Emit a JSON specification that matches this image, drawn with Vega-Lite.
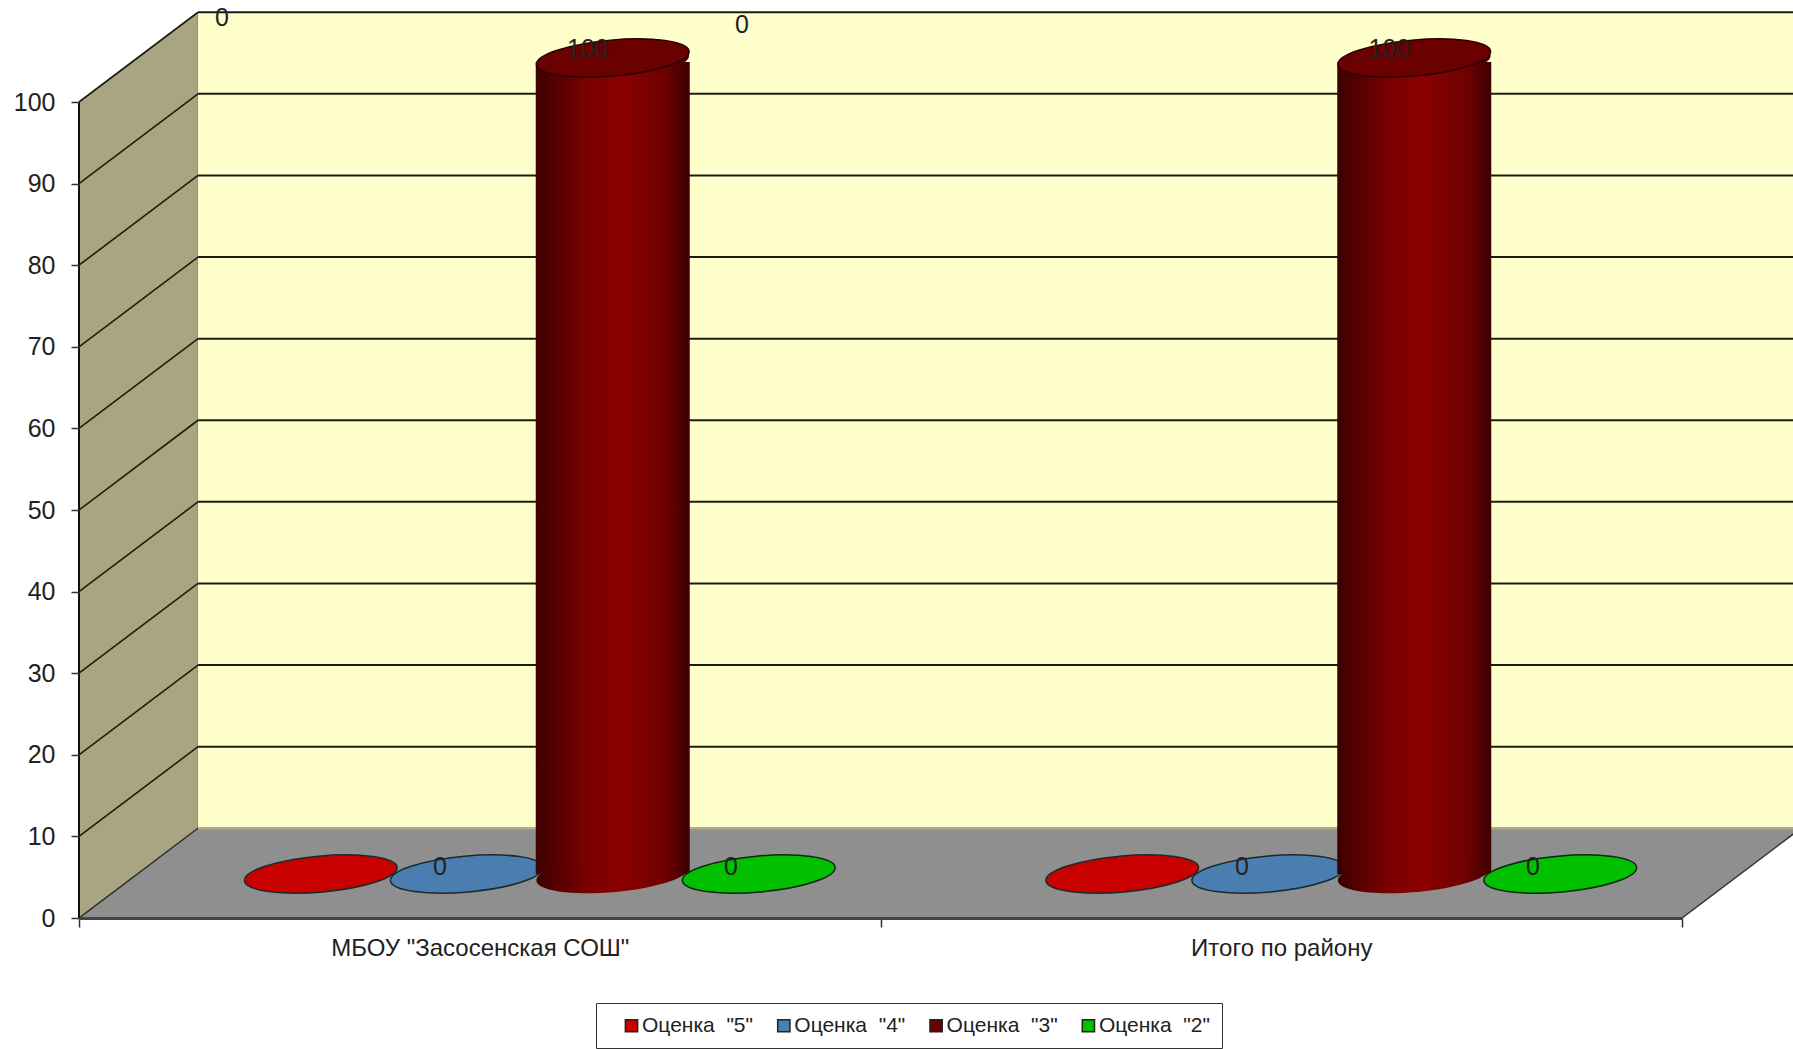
{
"$schema":"https://vega.github.io/schema/vega-lite/v6.json",
"width":1793,"height":1049,"padding":0,"autosize":{"type":"none"},"background":"#ffffff",
"config":{"font":"Liberation Sans","view":{"stroke":null}},
"datasets":{
"scores":[
{"school":"МБОУ \"Засосенская СОШ\"","series":"Оценка\u00a0\u00a0\"5\"","value":0},
{"school":"МБОУ \"Засосенская СОШ\"","series":"Оценка\u00a0\u00a0\"4\"","value":0},
{"school":"МБОУ \"Засосенская СОШ\"","series":"Оценка\u00a0\u00a0\"3\"","value":100},
{"school":"МБОУ \"Засосенская СОШ\"","series":"Оценка\u00a0\u00a0\"2\"","value":0},
{"school":"Итого по району","series":"Оценка\u00a0\u00a0\"5\"","value":0},
{"school":"Итого по району","series":"Оценка\u00a0\u00a0\"4\"","value":0},
{"school":"Итого по району","series":"Оценка\u00a0\u00a0\"3\"","value":100},
{"school":"Итого по району","series":"Оценка\u00a0\u00a0\"2\"","value":0}],
"grid":[{"level":10,"wall":21},{"level":20,"wall":31},{"level":30,"wall":41},{"level":40,"wall":51},{"level":50,"wall":61},{"level":60,"wall":71},{"level":70,"wall":81},{"level":80,"wall":91},{"level":90,"wall":101},{"level":100,"wall":111}],
"sideWall":[{"u":0,"lo":0,"hi":100},{"u":0.1485,"lo":11,"hi":111}],
"floor":[{"u":0,"lo":0,"hi":0},{"u":0.1485,"lo":0,"hi":11},{"u":2,"lo":0,"hi":11},{"u":2.1485,"lo":11,"hi":11}],
"labels":[
{"u":0.1784,"v":110.3,"t":"0"},{"u":0.827,"v":109.4,"t":"0"},{"u":0.635,"v":106.5,"t":"100"},{"u":1.635,"v":106.5,"t":"100"},
{"u":0.4504,"v":6.25,"t":"0"},{"u":0.8135,"v":6.25,"t":"0"},{"u":1.451,"v":6.25,"t":"0"},{"u":1.814,"v":6.25,"t":"0"}]
},
"resolve":{"scale":{"x":"independent"},"axis":{"y":"independent"}},
"layer":[
{"resolve":{"axis":{"y":"independent"}},"layer":[
 {"data":{"name":"sideWall"},"mark":{"type":"area","color":"#a9a581","stroke":"#777","strokeWidth":1},
  "encoding":{"x":{"field":"u","type":"quantitative","scale":{"domain":[-0.09856,2.1385],"nice":false,"zero":false},"axis":null},
   "y":{"field":"lo","type":"quantitative","scale":{"domain":[-16.05,112.5],"nice":false,"zero":false},"axis":{"orient":"left","values":[0,10,20,30,40,50,60,70,80,90,100],"offset":-79,"domain":false,"grid":false,"title":null,"tickSize":8,"tickColor":"#333","tickWidth":1.5,"labelFontSize":25,"labelColor":"#222","labelPadding":16,"zindex":1}},
   "y2":{"field":"hi"}}},
 {"data":{"values":[{"a":0.1485,"b":2.1385,"lo":11,"hi":111}]},"mark":{"type":"rect","color":"#ffffcc"},
  "encoding":{"x":{"field":"a","type":"quantitative"},"x2":{"field":"b"},"y":{"field":"lo","type":"quantitative","axis":null},"y2":{"field":"hi"}}},
 {"data":{"name":"floor"},"mark":{"type":"area","color":"#8f8f8f","stroke":"#333","strokeWidth":1.5},
  "encoding":{"x":{"field":"u","type":"quantitative"},"y":{"field":"lo","type":"quantitative","axis":null},"y2":{"field":"hi"}}},
 {"data":{"values":[{"a":0.1485,"b":2.1385,"lo":11}]},"mark":{"type":"rule","color":"#b5b18a","strokeWidth":2},
  "encoding":{"x":{"field":"a","type":"quantitative"},"x2":{"field":"b"},"y":{"field":"lo","type":"quantitative","axis":null}}},
 {"data":{"name":"grid"},"mark":{"type":"rule","color":"#1c1c10","strokeWidth":2},
  "encoding":{"x":{"datum":0.1485},"x2":{"datum":2.1385},"y":{"field":"wall","type":"quantitative","axis":null}}},
 {"data":{"name":"grid"},"mark":{"type":"rule","color":"#1c1c10","strokeWidth":1.6},
  "encoding":{"x":{"datum":0},"x2":{"datum":0.1485},"y":{"field":"level","type":"quantitative","axis":null},"y2":{"field":"wall"}}},
 {"data":{"values":[{"lo":0,"hi":100}]},"mark":{"type":"rule","color":"#111","strokeWidth":2},
  "encoding":{"x":{"datum":0},"y":{"field":"lo","type":"quantitative","axis":null},"y2":{"field":"hi"}}}
]},
{"data":{"name":"scores"},
 "encoding":{
  "x":{"field":"school","type":"nominal","sort":null,"scale":{"domain":["МБОУ \"Засосенская СОШ\"","Итого по району"],"range":[79,1682],"paddingInner":0,"paddingOuter":0},
   "axis":{"orient":"bottom","offset":-131,"title":null,"tickBand":"extent","labelAngle":0,"labelLimit":500,"labelFontSize":24,"labelColor":"#222","labelPadding":9,"tickSize":9,"tickColor":"#333","tickWidth":1.5,"domainColor":"#444","domainWidth":3,"zindex":1}},
  "xOffset":{"field":"series","type":"nominal","sort":null,"scale":{"type":"band","domain":["Оценка\u00a0\u00a0\"5\"","Оценка\u00a0\u00a0\"4\"","Оценка\u00a0\u00a0\"3\"","Оценка\u00a0\u00a0\"2\""],"range":[60,861.5],"paddingInner":0,"paddingOuter":0.745}},
  "color":{"field":"series","type":"nominal","sort":null,"scale":{"domain":["Оценка\u00a0\u00a0\"5\"","Оценка\u00a0\u00a0\"4\"","Оценка\u00a0\u00a0\"3\"","Оценка\u00a0\u00a0\"2\""],"range":["#c80000","#4a7db0","#6a0000","#00c000"]},
   "legend":{"orient":"none","legendX":596,"legendY":1003,"direction":"horizontal","columns":4,"title":null,"fillColor":"#ffffff","strokeColor":"#333","padding":12,"symbolType":"square","symbolSize":150,"symbolStrokeColor":"#222","symbolStrokeWidth":1.5,"labelFontSize":21,"labelColor":"#222","labelOffset":0,"symbolOffset":13,"columnPadding":7.3,"symbolOpacity":1}}
 },
 "layer":[
  {"transform":[{"filter":"datum.value==0 && indexof(datum.series,'2')<0"}],
   "mark":{"type":"point","filled":true,"opacity":1,"shape":"M-1 0.09A1 0.235 -5 1 1 1 -0.09A1 0.235 -5 1 1 -1 0.09Z","size":23300,"stroke":"#1a2a2a","strokeWidth":1.5,"yOffset":-44},
   "encoding":{"y":{"field":"value","type":"quantitative","axis":null}}},
  {"transform":[{"filter":"datum.value>0"}],
   "mark":{"type":"bar","width":154,"yOffset":-40,"y2Offset":-44},
   "encoding":{"color":{"value":{"gradient":"linear","x1":0,"x2":1,"y1":0,"y2":0,"stops":[{"offset":0,"color":"#3c0000"},{"offset":0.3,"color":"#760000"},{"offset":0.55,"color":"#8c0000"},{"offset":0.85,"color":"#6e0000"},{"offset":1,"color":"#3c0000"}]}},"y":{"field":"value","type":"quantitative","axis":null},"y2":{"datum":0}}},
  {"transform":[{"filter":"datum.value>0"}],
   "mark":{"type":"point","filled":true,"opacity":1,"shape":"M-1 0.09A1 0.235 -5 1 1 1 -0.09A1 0.235 -5 1 1 -1 0.09Z","size":23300,"strokeWidth":0,"yOffset":-44},
   "encoding":{"color":{"value":{"gradient":"linear","x1":0,"x2":1,"y1":0,"y2":0,"stops":[{"offset":0,"color":"#3c0000"},{"offset":0.3,"color":"#760000"},{"offset":0.55,"color":"#8c0000"},{"offset":0.85,"color":"#6e0000"},{"offset":1,"color":"#3c0000"}]}},"y":{"datum":0,"type":"quantitative","axis":null}}},
  {"transform":[{"filter":"datum.value>0"}],
   "mark":{"type":"point","filled":true,"opacity":1,"shape":"M-1 0.09A1 0.235 -5 1 1 1 -0.09A1 0.235 -5 1 1 -1 0.09Z","size":23300,"strokeWidth":0,"yOffset":-40},
   "encoding":{"color":{"value":{"gradient":"linear","x1":0,"x2":1,"y1":0,"y2":0,"stops":[{"offset":0,"color":"#3c0000"},{"offset":0.3,"color":"#760000"},{"offset":0.55,"color":"#8c0000"},{"offset":0.85,"color":"#6e0000"},{"offset":1,"color":"#3c0000"}]}},"y":{"field":"value","type":"quantitative","axis":null}}},
  {"transform":[{"filter":"datum.value>0"}],
   "mark":{"type":"point","filled":true,"opacity":1,"shape":"M-1 0.09A1 0.235 -5 1 1 1 -0.09A1 0.235 -5 1 1 -1 0.09Z","size":23300,"stroke":"#2a0000","strokeWidth":1.5,"yOffset":-44},
   "encoding":{"y":{"field":"value","type":"quantitative","axis":null}}},
  {"transform":[{"filter":"datum.value==0 && indexof(datum.series,'2')>=0"}],
   "mark":{"type":"point","filled":true,"opacity":1,"shape":"M-1 0.09A1 0.235 -5 1 1 1 -0.09A1 0.235 -5 1 1 -1 0.09Z","size":23300,"stroke":"#0a2a0a","strokeWidth":1.5,"yOffset":-44},
   "encoding":{"y":{"field":"value","type":"quantitative","axis":null}}}
 ]},
{"data":{"name":"labels"},"mark":{"type":"text","fontSize":25,"color":"#222"},
 "encoding":{"x":{"field":"u","type":"quantitative","scale":{"domain":[-0.09856,2.1385],"nice":false,"zero":false},"axis":null},"y":{"field":"v","type":"quantitative","axis":null},"text":{"field":"t"}}}
]}
